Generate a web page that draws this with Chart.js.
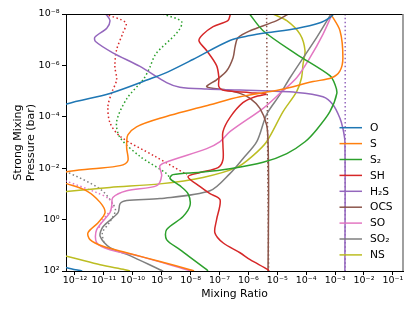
<!DOCTYPE html>
<html>
<head>
<meta charset="utf-8">
<script src="https://cdn.jsdelivr.net/npm/chart.js@4.4.1/dist/chart.umd.min.js"></script>
<style>
  html, body { margin: 0; padding: 0; background: #fff; }
  canvas { display: block; }
</style>
</head>
<body>
<canvas id="c" width="415" height="311"></canvas>
<script>
/* Vertical mixing-ratio profiles.
   Values are log10 of pressure (bar) and log10 of mixing ratio. */
const LABELS = ["O", "S", "S₂", "SH", "H₂S", "OCS", "SO", "SO₂", "NS"];
const COLORS = ["#1f77b4", "#ff7f0e", "#2ca02c", "#d62728", "#9467bd", "#8c564b", "#e377c2", "#7f7f7f", "#bcbd22"];
const X_TICK_EXP = [-12, -11, -10, -9, -8, -7, -6, -5, -4, -3, -2, -1];
const Y_TICK_EXP = [-8, -6, -4, -2, 0, 2];
const X_RANGE_EXP = [-12.311, -0.650];
const Y_RANGE_EXP = [-8, 2];

// solid profiles
const O_LOGP = [-8.0, -7.86, -7.66, -7.44, -7.27, -7.16, -6.97, -6.23, -5.75, -5.52, -4.91, -4.50, -3.9, 1.4, 1.87, 2.0];
const O_LOGX = [-3.05, -3.18, -3.52, -4.33, -5.37, -5.94, -6.64, -7.92, -8.78, -9.30, -10.79, -12.29, -13.6, -13.6, -12.28, -11.75];

const S_LOGP = [-8.0, -7.35, -6.30, -5.79, -5.52, -5.37, -5.05, -4.78, -4.47, -3.94, -3.61, -3.30, -3.03, -2.76, -2.29, -2.10, -1.98, -1.86, -1.65, -1.40, -1.12, -0.67, -0.27, 0.12, 0.51, 0.78, 1.04, 1.29, 1.63, 1.95, 2.0];
const S_LOGX = [-3.15, -2.83, -2.73, -2.83, -3.12, -3.76, -4.91, -6.29, -7.33, -9.06, -9.87, -10.17, -10.21, -10.21, -10.17, -10.44, -11.38, -12.29, -13.0, -12.29, -11.60, -11.13, -10.96, -11.20, -11.55, -11.48, -11.03, -10.21, -9.06, -8.02, -7.88];

const S2_LOGP = [-8.0, -7.35, -6.43, -5.60, -5.25, -4.91, -4.20, -3.50, -3.03, -2.57, -2.23, -1.98, -1.84, -1.75, -1.60, -1.32, -1.01, -0.55, -0.12, 0.39, 0.78, 1.17, 1.95, 2.0];
const S2_LOGX = [-5.96, -5.49, -4.33, -3.18, -3.00, -2.94, -3.18, -3.64, -4.04, -4.67, -5.49, -6.64, -7.67, -8.61, -8.71, -8.37, -8.09, -8.02, -8.26, -8.83, -8.83, -8.37, -7.44, -7.4];

const SH_LOGP = [-8.0, -7.74, -7.51, -7.21, -6.96, -6.57, -5.99, -5.52, -5.17, -5.02, -4.94, -4.88, -4.78, -4.55, -3.97, -3.42, -2.88, -2.33, -2.02, -1.83, -1.67, -1.28, -1.01, -0.77, 0.00, 0.51, 0.90, 1.29, 1.56, 1.95, 2.0];
const SH_LOGX = [-6.62, -6.71, -7.22, -7.57, -7.71, -7.44, -7.10, -7.02, -7.02, -6.81, -5.94, -5.39, -5.77, -6.19, -6.64, -6.88, -6.88, -6.88, -7.05, -7.67, -8.09, -7.67, -7.33, -6.98, -7.10, -7.16, -6.88, -6.29, -5.94, -5.32, -5.30];

const H2S_LOGP = [-8.0, -7.75, -7.45, -7.10, -6.93, -6.49, -5.96, -5.33, -5.15, -5.08, -5.04, -4.95, -4.78, -4.47, -3.94, -3.55, -3.03, 2.0];
const H2S_LOGX = [-10.93, -10.79, -10.90, -11.31, -11.29, -10.69, -9.75, -8.83, -8.37, -7.44, -6.29, -4.33, -3.42, -3.07, -2.83, -2.73, -2.66, -2.66];

const OCS_LOGP = [-8.0, -7.74, -7.35, -7.08, -6.73, -6.30, -5.79, -5.44, -5.17, -5.04, -4.91, -4.72, -4.33, -3.69, -3.03, -1.0, 2.0];
const OCS_LOGX = [-4.62, -5.02, -5.94, -6.36, -6.46, -6.53, -6.75, -7.10, -7.44, -6.75, -6.29, -5.94, -5.60, -5.37, -5.32, -5.30, -5.32];

const SO_LOGP = [-8.0, -7.21, -6.30, -5.52, -4.91, -4.33, -3.42, -3.03, -2.76, -2.29, -2.10, -1.71, -1.32, -1.12, -0.86, -0.54, -0.27, 0.39, 0.90, 1.17, 1.43, 1.95, 2.0];
const SO_LOGX = [-3.10, -3.42, -3.87, -4.33, -4.91, -5.49, -6.64, -6.98, -7.44, -8.71, -9.06, -9.00, -9.17, -10.21, -10.69, -10.73, -10.79, -11.25, -11.25, -10.79, -9.75, -8.13, -8.0];

const SO2_LOGP = [-8.0, -7.08, -5.52, -4.86, -4.09, -3.03, -2.37, -1.79, -1.12, -0.82, -0.74, -0.62, -0.27, 0.28, 0.65, 1.09, 1.40, 1.95, 2.0];
const SO2_LOGX = [-3.14, -3.64, -4.56, -4.91, -5.37, -5.71, -6.19, -6.64, -7.33, -9.06, -10.21, -10.44, -10.51, -11.03, -11.13, -10.79, -10.10, -9.06, -8.95];

const NS_LOGP = [-8.0, -7.74, -7.21, -6.57, -6.04, -5.52, -4.98, -4.20, -3.03, -2.49, -2.03, -1.64, -1.39, -1.25, -1.09, -0.95, 1.2, 1.43, 1.76, 1.95, 2.0];
const NS_LOGX = [-5.15, -4.67, -4.21, -4.04, -4.11, -4.16, -4.33, -4.80, -5.37, -5.84, -6.40, -7.57, -9.06, -10.79, -12.29, -13.4, -13.4, -12.29, -11.13, -10.27, -10.1];

// dotted profiles
const S2_DOT_LOGP = [-8.0, -7.70, -7.30, -6.45, -5.90, -5.48, -4.70, -3.81, -3.19, -2.46, -1.79, -1.60];
const S2_DOT_LOGX = [-8.96, -8.31, -8.45, -9.20, -9.42, -9.62, -10.21, -10.56, -10.44, -9.75, -8.83, -8.71];

const SH_DOT_LOGP = [-8.0, -7.66, -7.27, -6.61, -5.96, -5.44, -4.94, -4.40, -3.77, -3.24, -2.46, -1.75];
const SH_DOT_LOGX = [-10.96, -10.24, -10.34, -10.56, -10.62, -10.56, -10.73, -10.86, -10.79, -10.44, -9.23, -8.13];

const H2S_DOT_LOGP = [-8.0, 2.0];
const H2S_DOT_LOGX = [-2.65, -2.65];

const OCS_DOT_LOGP = [-8.0, 2.0];
const OCS_DOT_LOGX = [-5.37, -5.30];

const SO_DOT_LOGP = [-1.6, -1.49, -1.05, -0.80, -0.51, 0.00, 0.39];
const SO_DOT_LOGX = [-12.6, -12.29, -11.25, -10.82, -10.69, -11.03, -11.20];

const SO2_DOT_LOGP = [-1.95, -1.86, -1.19, -0.67, -0.35, 0.10, 0.50, 0.90];
const SO2_DOT_LOGX = [-12.6, -12.29, -11.13, -10.72, -10.60, -10.80, -11.05, -11.00];

const SOLID = [
  [O_LOGP, O_LOGX], [S_LOGP, S_LOGX], [S2_LOGP, S2_LOGX], [SH_LOGP, SH_LOGX], [H2S_LOGP, H2S_LOGX],
  [OCS_LOGP, OCS_LOGX], [SO_LOGP, SO_LOGX], [SO2_LOGP, SO2_LOGX], [NS_LOGP, NS_LOGX]
];
const DOTTED = [
  [2, S2_DOT_LOGP, S2_DOT_LOGX], [3, SH_DOT_LOGP, SH_DOT_LOGX], [4, H2S_DOT_LOGP, H2S_DOT_LOGX],
  [5, OCS_DOT_LOGP, OCS_DOT_LOGX], [6, SO_DOT_LOGP, SO_DOT_LOGX], [7, SO2_DOT_LOGP, SO2_DOT_LOGX]
];

const SUP = { "-": "⁻", "0": "⁰", "1": "¹", "2": "²", "3": "³", "4": "⁴", "5": "⁵", "6": "⁶", "7": "⁷", "8": "⁸", "9": "⁹" };
const pow10 = e => "10" + String(e).split("").map(c => SUP[c]).join("");
const pts = (lp, lx) => lp.map((p, i) => ({ x: Math.pow(10, lx[i]), y: Math.pow(10, p) }));

const datasets = [];
SOLID.forEach(([lp, lx], i) => datasets.push({
  label: LABELS[i], data: pts(lp, lx), borderColor: COLORS[i], showLine: true
}));
DOTTED.forEach(([i, lp, lx]) => datasets.push({
  label: LABELS[i] + " (dotted)", data: pts(lp, lx), borderColor: COLORS[i], showLine: true, borderDash: [1.5, 2.5]
}));

// spines on top/right and the legend inside the plot
const frame = {
  id: "frame",
  afterDatasetsDraw(chart) {
    const { ctx, chartArea: a } = chart;
    ctx.save();
    ctx.lineWidth = 1;
    ctx.strokeStyle = "#000";
    ctx.beginPath(); ctx.moveTo(a.left, a.top + 0.5); ctx.lineTo(a.right, a.top + 0.5); ctx.stroke();
    ctx.strokeStyle = "#888"; ctx.lineWidth = 1.6;
    ctx.beginPath(); ctx.moveTo(a.right, a.top); ctx.lineTo(a.right, a.bottom); ctx.stroke();

    ctx.font = '10.7px "DejaVu Sans"';
    ctx.textBaseline = "middle";
    LABELS.forEach((lbl, i) => {
      const y = a.top + 113.7 + i * 15.9;
      ctx.strokeStyle = COLORS[i]; ctx.lineWidth = 1.5;
      ctx.beginPath(); ctx.moveTo(a.right - 63.5, y); ctx.lineTo(a.right - 41, y); ctx.stroke();
      ctx.fillStyle = "#000";
      ctx.fillText(lbl, a.right - 33, y + 0.5);
    });
    ctx.restore();
  }
};

Chart.defaults.font.family = '"DejaVu Sans"';
Chart.defaults.color = "#000";

const tickFont = { size: 9.5 };
new Chart(document.getElementById("c"), {
  type: "scatter",
  data: { datasets },
  options: {
    responsive: false, animation: false, devicePixelRatio: 1,
    layout: { padding: { left: 0, top: 14, right: 12, bottom: 0 } },
    plugins: { legend: { display: false }, tooltip: { enabled: false } },
    elements: { point: { radius: 0 }, line: { tension: 0.3, borderWidth: 1.5, capBezierPoints: false } },
    scales: {
      x: {
        type: "logarithmic",
        min: Math.pow(10, X_RANGE_EXP[0]), max: Math.pow(10, X_RANGE_EXP[1]),
        afterBuildTicks: s => { s.ticks = X_TICK_EXP.map(e => ({ value: Math.pow(10, e) })); },
        afterFit: s => { s.height = 40; },
        ticks: { callback: v => pow10(Math.round(Math.log10(v))), font: tickFont, maxRotation: 0, autoSkip: false, padding: 0 },
        grid: { drawOnChartArea: false, tickLength: 4, color: "#000" },
        border: { color: "#000" },
        title: { display: true, text: "Mixing Ratio", font: { size: 10.8 }, padding: { top: 0, bottom: 10.2 } }
      },
      y: {
        type: "logarithmic", reverse: true,
        min: Math.pow(10, Y_RANGE_EXP[0]), max: Math.pow(10, Y_RANGE_EXP[1]),
        afterBuildTicks: s => { s.ticks = Y_TICK_EXP.map(e => ({ value: Math.pow(10, e) })); },
        afterFit: s => { s.width = 66; },
        ticks: { callback: v => pow10(Math.round(Math.log10(v))), font: tickFont, padding: 2.5 },
        grid: { drawOnChartArea: false, tickLength: 4, color: "#000" },
        border: { color: "#000" },
        title: { display: true, text: ["Strong Mixing", "Pressure (bar)"], font: { size: 11, lineHeight: 1.1 }, padding: { top: 12.5, bottom: 0 } }
      }
    }
  },
  plugins: [frame]
});
</script>
</body>
</html>
